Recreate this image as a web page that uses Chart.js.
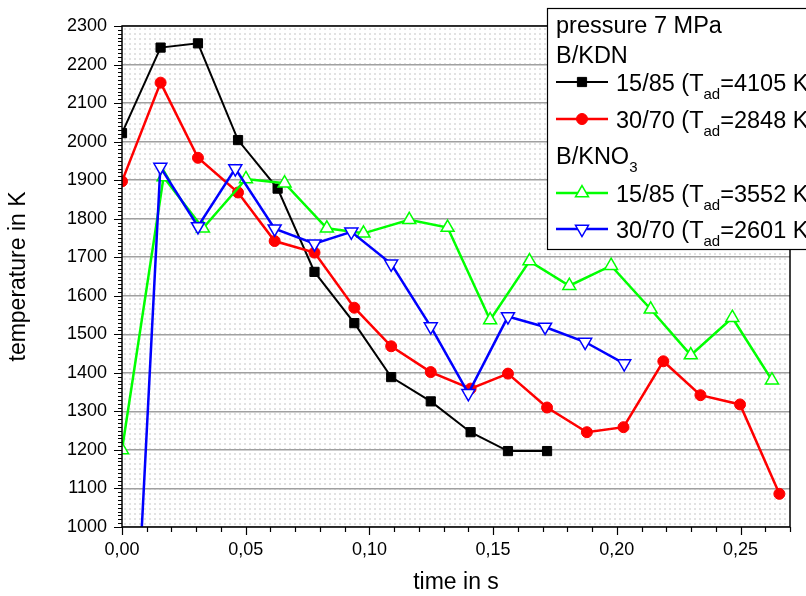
<!DOCTYPE html>
<html>
<head>
<meta charset="utf-8">
<title>temperature vs time</title>
<script src="https://cdn.jsdelivr.net/npm/chart.js@4.4.1/dist/chart.umd.min.js"></script>
<style>
    html, body { margin: 0; padding: 0; background: #fff; }
    #wrap { width: 806px; height: 596px; }
</style>
</head>
<body>
<div id="wrap"><canvas id="tempChart" width="806" height="596"></canvas></div>
<script>
// Values: time in s, temperature in K
const kdn15Time = [0, 0.0156, 0.0307, 0.0469, 0.0629, 0.0778, 0.0939, 0.1088, 0.1248, 0.1409, 0.1560, 0.1718];
const kdn15Temp = [2022, 2244, 2255, 2004, 1878, 1662, 1529, 1389, 1326, 1246, 1197, 1197];

const kdn30Time = [0, 0.0156, 0.0307, 0.0469, 0.0617, 0.0778, 0.0939, 0.1088, 0.1248, 0.1409, 0.1560, 0.1718, 0.1879, 0.2027, 0.2188, 0.2338, 0.2498, 0.2657];
const kdn30Temp = [1897, 2153, 1958, 1868, 1742, 1712, 1569, 1469, 1402, 1359, 1398, 1310, 1246, 1259, 1430, 1342, 1318, 1086];

const kno15Time = [0, 0.0168, 0.0327, 0.0501, 0.0657, 0.0828, 0.0976, 0.1161, 0.1316, 0.1488, 0.1647, 0.1808, 0.1977, 0.2137, 0.2299, 0.2467, 0.2627];
const kno15Temp = [1200, 1908, 1775, 1903, 1892, 1775, 1762, 1797, 1777, 1537, 1690, 1626, 1678, 1565, 1446, 1543, 1381];

const kno30Time = [0, 0.0155, 0.0307, 0.0458, 0.0617, 0.0778, 0.0927, 0.1088, 0.1248, 0.1400, 0.1560, 0.1710, 0.1872, 0.2030];
const kno30Temp = [0, 1934, 1780, 1930, 1774, 1735, 1766, 1683, 1520, 1347, 1546, 1519, 1480, 1424];

const xTickValues = [0, 0.05, 0.10, 0.15, 0.20, 0.25];
const xTickLabels = ['0,00', '0,05', '0,10', '0,15', '0,20', '0,25'];
const yTickValues = [1000, 1100, 1200, 1300, 1400, 1500, 1600, 1700, 1800, 1900, 2000, 2100, 2200, 2300];
const yTickLabels = ['1000', '1100', '1200', '1300', '1400', '1500', '1600', '1700', '1800', '1900', '2000', '2100', '2200', '2300'];

const legendTitle = 'pressure 7 MPa';
const legendGroups = [['B/KDN', ''], ['B/KNO', '3']];
const seriesLabels = [
    ['15/85 (T', 'ad', '=4105 K'],
    ['30/70 (T', 'ad', '=2848 K'],
    ['15/85 (T', 'ad', '=3552 K'],
    ['30/70 (T', 'ad', '=2601 K']
];

const FONT = "'Liberation Sans', Arial, sans-serif";

function toPoints(xs, ys) {
    return xs.map((x, i) => ({ x: x, y: ys[i] }));
}

// text with a subscript part
function drawSubText(ctx, parts, x, y) {
    let cx = x;
    parts.forEach((p, i) => {
        if (!p) return;
        const isSub = i % 2 === 1;
        ctx.font = (isSub ? '15px ' : '23.5px ') + FONT;
        ctx.fillText(p, cx, isSub ? y + 8 : y);
        cx += ctx.measureText(p).width;
    });
}

function drawLegend(chart) {
    const ctx = chart.ctx;
    const datasets = chart.data.datasets;
    ctx.save();
    ctx.fillStyle = '#fff';
    ctx.fillRect(547, 8, 280, 241);
    ctx.strokeStyle = '#000';
    ctx.lineWidth = 1.2;
    ctx.strokeRect(547.5, 8.5, 280, 241);

    ctx.fillStyle = '#000';
    ctx.textBaseline = 'alphabetic';
    ctx.textAlign = 'left';
    ctx.font = '23.5px ' + FONT;
    ctx.fillText(legendTitle, 556, 33);
    drawSubText(ctx, [legendGroups[0][0], legendGroups[0][1]], 556, 63);
    drawSubText(ctx, [legendGroups[1][0], legendGroups[1][1]], 556, 164);

    const rowY = [82, 119, 193, 229];
    datasets.forEach((ds, i) => {
        const y = rowY[i];
        ctx.strokeStyle = ds.borderColor;
        ctx.lineWidth = ds.borderWidth;
        ctx.beginPath();
        ctx.moveTo(556, y);
        ctx.lineTo(608, y);
        ctx.stroke();

        ctx.fillStyle = ds.pointBackgroundColor;
        ctx.strokeStyle = ds.pointBorderColor;
        ctx.lineWidth = ds.pointBorderWidth;
        Chart.helpers.drawPoint(ctx, {
            pointStyle: ds.pointStyle,
            rotation: ds.pointRotation || 0,
            radius: ds.pointRadius,
            borderWidth: ds.pointBorderWidth
        }, 582, y);

        ctx.fillStyle = '#000';
        drawSubText(ctx, seriesLabels[i], 616, y + 9);
    });
    ctx.restore();
}

const framePlugin = {
    id: 'frame',
    beforeDraw(chart) {
        const { ctx, chartArea: a } = chart;
        ctx.save();
        ctx.fillStyle = '#fff';
        ctx.fillRect(0, 0, chart.width, chart.height);
        // dotted background inside the plot
        const tile = document.createElement('canvas');
        tile.width = 5;
        tile.height = 5;
        const t = tile.getContext('2d');
        t.fillStyle = '#e2e2e2';
        t.fillRect(0, 0, 2, 2);
        ctx.translate(a.left + 2, a.top + 2);
        ctx.fillStyle = ctx.createPattern(tile, 'repeat');
        ctx.fillRect(0, 0, a.right - a.left - 3, a.bottom - a.top - 3);
        ctx.restore();
    },
    afterDatasetsDraw(chart) {
        const { ctx, chartArea: a, scales } = chart;
        ctx.save();
        ctx.strokeStyle = '#000';
        ctx.lineWidth = 1.5;
        ctx.strokeRect(a.left, a.top, a.right - a.left, a.bottom - a.top);

        ctx.lineWidth = 1.2;
        ctx.beginPath();
        for (let i = 0; i <= 130; i++) {
            const py = Math.round(scales.y.getPixelForValue(1000 + i * 10)) + 0.5;
            const len = i % 10 === 0 ? 8 : 4;
            ctx.moveTo(a.left - len, py);
            ctx.lineTo(a.left, py);
        }
        for (let i = 0; i <= 27; i++) {
            const px = Math.round(scales.x.getPixelForValue(i * 0.01)) + 0.5;
            const len = i % 5 === 0 ? 8 : 5;
            ctx.moveTo(px, a.bottom);
            ctx.lineTo(px, a.bottom + len);
        }
        ctx.stroke();
        ctx.restore();
    },
    afterDraw(chart) {
        drawLegend(chart);
    }
};

const ctx = document.getElementById('tempChart').getContext('2d');

new Chart(ctx, {
    type: 'line',
    data: {
        datasets: [{
            data: toPoints(kdn15Time, kdn15Temp),
            borderColor: '#000000',
            borderWidth: 2,
            pointStyle: 'rect',
            pointRadius: 6.5,
            pointBackgroundColor: '#000000',
            pointBorderColor: '#000000',
            pointBorderWidth: 1,
            order: 3
        }, {
            data: toPoints(kdn30Time, kdn30Temp),
            borderColor: '#ff0000',
            borderWidth: 2.5,
            pointStyle: 'circle',
            pointRadius: 5.5,
            pointBackgroundColor: '#ff0000',
            pointBorderColor: '#ff0000',
            pointBorderWidth: 1,
            order: 2
        }, {
            data: toPoints(kno15Time, kno15Temp),
            borderColor: '#00ff00',
            borderWidth: 2.5,
            pointStyle: 'triangle',
            pointRadius: 7.5,
            pointBackgroundColor: '#ffffff',
            pointBorderColor: '#00ff00',
            pointBorderWidth: 1.5,
            order: 1
        }, {
            data: toPoints(kno30Time, kno30Temp),
            borderColor: '#0000ff',
            borderWidth: 2.5,
            pointStyle: 'triangle',
            pointRotation: 180,
            pointRadius: 7.5,
            pointBackgroundColor: '#ffffff',
            pointBorderColor: '#0000ff',
            pointBorderWidth: 1.5,
            order: 0
        }]
    },
    options: {
        responsive: false,
        animation: false,
        events: [],
        layout: { padding: { top: 26, right: 16, left: 0, bottom: 0 } },
        elements: { line: { tension: 0 } },
        plugins: {
            legend: { display: false },
            tooltip: { enabled: false }
        },
        scales: {
            x: {
                type: 'linear',
                min: 0,
                max: 0.27,
                afterBuildTicks: s => { s.ticks = xTickValues.map(v => ({ value: v })); },
                afterFit: s => { s.height = 69; },
                ticks: {
                    callback: (v, i) => xTickLabels[i],
                    padding: 12,
                    color: '#000',
                    maxRotation: 0,
                    font: { family: FONT, size: 18 }
                },
                grid: { display: false, drawTicks: false },
                border: { display: false },
                title: {
                    display: true,
                    text: 'time in s',
                    color: '#000',
                    padding: { top: 0, bottom: 0 },
                    font: { family: FONT, size: 23 }
                }
            },
            y: {
                type: 'linear',
                min: 1000,
                max: 2300,
                afterBuildTicks: s => { s.ticks = yTickValues.map(v => ({ value: v })); },
                afterFit: s => { s.width = 122; },
                ticks: {
                    callback: (v, i) => yTickLabels[i],
                    padding: 15,
                    color: '#000',
                    font: { family: FONT, size: 18 }
                },
                grid: { color: '#a0a0a0', lineWidth: 1.5, drawTicks: false },
                border: { display: false },
                title: {
                    display: true,
                    text: 'temperature in K',
                    color: '#000',
                    padding: { top: 5, bottom: 0 },
                    font: { family: FONT, size: 23 }
                }
            }
        }
    },
    plugins: [framePlugin]
});
</script>
</body>
</html>
